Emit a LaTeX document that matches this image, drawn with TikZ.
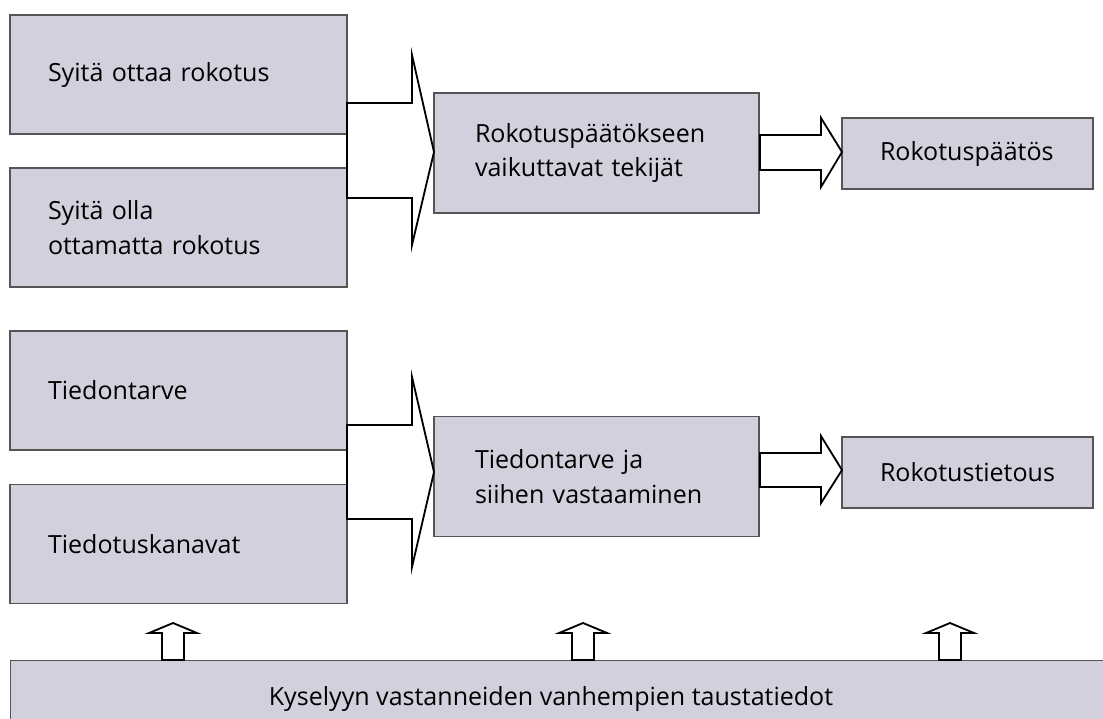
\documentclass[tikz,border=0pt]{standalone}
\usepackage{fontspec}
\setmainfont{Open Sans}
\newlength\px
\setlength\px{0.025cm}
\definecolor{boxfill}{RGB}{209,208,220}
\definecolor{boxline}{RGB}{85,85,85}
\newcommand\boxfont{\fontsize{17.8}{24.8}\selectfont}

\begin{document}
\begin{tikzpicture}
        [x=\px, y=-\px,
        box/.style={rectangle, draw=boxline, fill=boxfill, line width=0.8pt, font=\boxfont, align=left, inner ysep=0pt},
        wide/.style={inner xsep=38*\px, text width=261*\px, minimum height=119*\px},
        middle/.style={inner xsep=41*\px, text width=243*\px, minimum height=120*\px},
        small/.style={inner xsep=38*\px, text width=175*\px, minimum height=71*\px},
        blockarrow/.style={draw=black, fill=white, line width=1.3pt, line join=miter}]

        \useasboundingbox (0, 0) rectangle (1103, 718);

        % upper row
        \node[box, wide] (take) at (178.5, 74.5) {Syitä ottaa rokotus};
        \node[box, wide] (nottake) at (178.5, 227.5) {Syitä olla\\ottamatta rokotus};
        \node[box, middle] (factors) at (596.5, 153) {Rokotuspäätökseen\\vaikuttavat tekijät};
        \node[box, small] (decision) at (967.5, 153.5) {Rokotuspäätös};

        % lower row
        \node[box, wide] (need) at (178.5, 390.5) {Tiedontarve};
        \node[box, wide] (channels) at (178.5, 544) {Tiedotuskanavat};
        \node[box, middle] (answer) at (596.5, 476.5) {Tiedontarve ja\\siihen vastaaminen};
        \node[box, small] (knowledge) at (967.5, 472.5) {Rokotustietous};

        % background box, runs past the right edge
        \node[box, anchor=north west, minimum width=1130*\px, minimum height=80*\px] (background) at (10, 660) {};
        \node[font=\boxfont, inner sep=0pt] (backgroundtext) at (551, 699) {Kyselyyn vastanneiden vanhempien taustatiedot};

        % merging arrows
        \draw[blockarrow] (347, 103) -- (412, 103) -- (412, 55) -- (434, 152)
            -- (412, 245) -- (412, 198) -- (347, 198) -- cycle;
        \draw[blockarrow] (347, 425) -- (412, 425) -- (412, 377) -- (434, 472)
            -- (412, 567) -- (412, 519) -- (347, 519) -- cycle;

        % arrows to the results
        \draw[blockarrow] (760, 135) -- (821, 135) -- (821, 118) -- (842, 152)
            -- (821, 187) -- (821, 170) -- (760, 170) -- cycle;
        \draw[blockarrow] (760, 453) -- (821, 453) -- (821, 436) -- (842, 470)
            -- (821, 503) -- (821, 487) -- (760, 487) -- cycle;

        % arrows up from the background box
        \foreach \x in {173, 583, 950} {
            \draw[blockarrow] (\x-11, 660) -- (\x-11, 633) -- (\x-24, 633) -- (\x, 623)
                -- (\x+24, 633) -- (\x+11, 633) -- (\x+11, 660) -- cycle;
        }

\end{tikzpicture}
\end{document}
